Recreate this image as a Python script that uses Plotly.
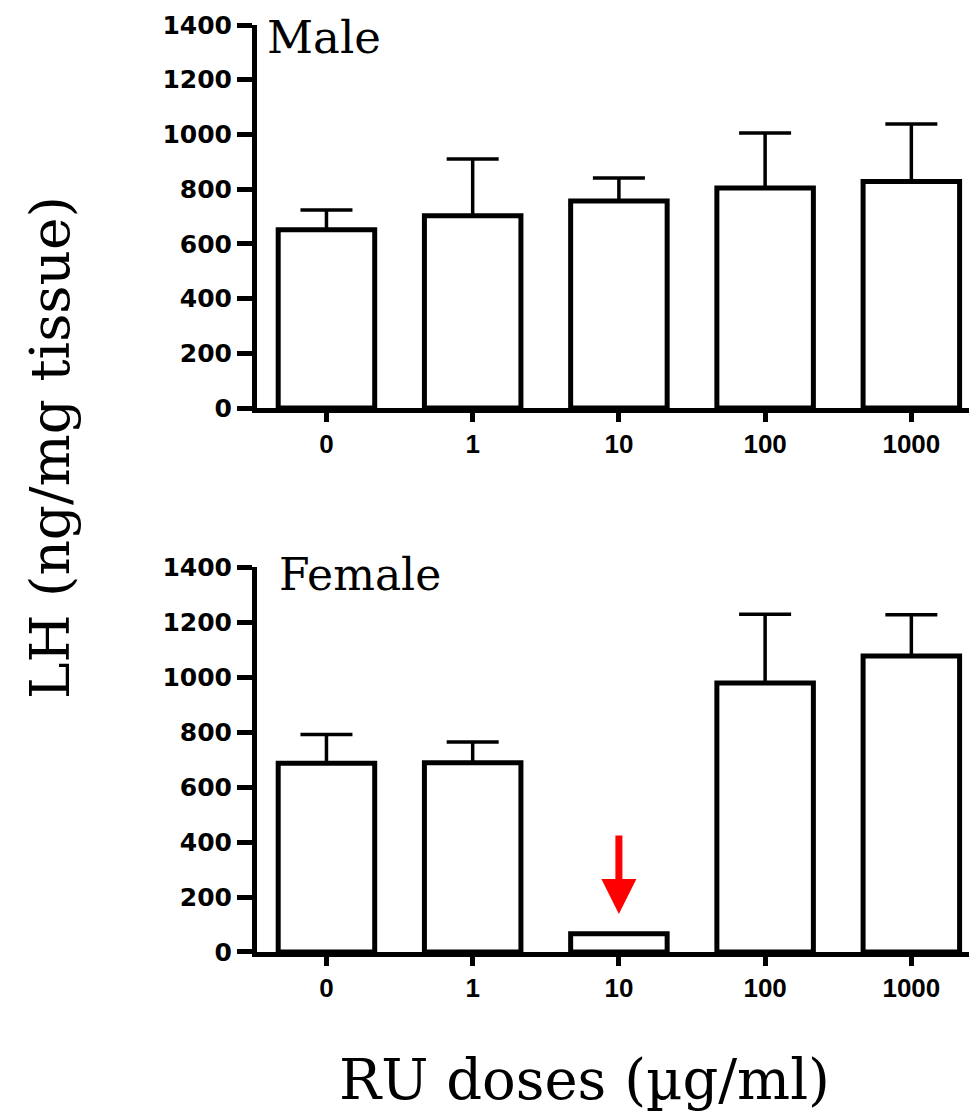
import plotly.graph_objects as go
from plotly.subplots import make_subplots

doses = ["0", "1", "10", "100", "1000"]
male_mean = [652, 703, 757, 804, 828]
male_sem = [72, 207, 84, 201, 210]
female_mean = [686, 688, 66, 978, 1076]
female_sem = [105, 76, 0, 250, 150]
y_ticks = [0, 200, 400, 600, 800, 1000, 1200, 1400]

fig = make_subplots(rows=2, cols=1, vertical_spacing=0.0)

for row, (mean, sem) in enumerate([(male_mean, male_sem), (female_mean, female_sem)], start=1):
    fig.add_trace(go.Bar(
        x=doses, y=mean, width=0.66,
        marker=dict(color="white", line=dict(color="black", width=5)),
        error_y=dict(type="data", array=sem, arrayminus=[0] * len(sem), symmetric=False,
                     color="black", thickness=3.5, width=26),
        showlegend=False,
    ), row=row, col=1)

axis_common = dict(showline=True, linecolor="black", linewidth=5, ticks="outside",
                   tickcolor="black", tickwidth=5, showgrid=False, zeroline=False,
                   automargin=False)

fig.update_xaxes(**axis_common, ticklen=9, range=[-0.475, 4.449], type="category",
                 tickfont=dict(family="Liberation Sans", size=26, color="black", weight="bold"))
fig.update_yaxes(**axis_common, ticklen=15, range=[0, 1400], tickvals=y_ticks,
                 tickfont=dict(family="DejaVu Sans", size=25, color="black", weight="bold"))

fig.update_yaxes(domain=[0.5868, 1.0], row=1, col=1)
fig.update_yaxes(domain=[0.0, 0.4153], row=2, col=1)

serif = "DejaVu Serif"
fig.add_annotation(text="Male", xref="paper", yref="paper", x=0.011, y=1.0173,
                   xanchor="left", yanchor="top", showarrow=False,
                   font=dict(family=serif, size=45, color="black"))
fig.add_annotation(text="Female", xref="paper", yref="paper", x=0.0278, y=0.4067,
                   xanchor="left", yanchor="middle", showarrow=False,
                   font=dict(family=serif, size=44, color="black"))
fig.add_annotation(text="LH (ng/mg tissue)", xref="paper", yref="paper", x=-0.2875, y=0.5437,
                   xanchor="center", yanchor="middle", textangle=-90, showarrow=False,
                   font=dict(family=serif, size=55, color="black"))
fig.add_annotation(text="RU doses (µg/ml)", xref="paper", yref="paper", x=0.455, y=-0.138,
                   xanchor="center", yanchor="middle", showarrow=False,
                   font=dict(family=serif, size=56, color="black"))
fig.add_annotation(text="", xref="x2", yref="y2", x=doses.index("10"), y=138, ax=0, ay=-80,
                   showarrow=True, arrowcolor="red", arrowwidth=7, arrowhead=2, arrowsize=1.0)

fig.update_layout(width=969, height=1105, margin=dict(l=249, r=0, t=17, b=161),
                  plot_bgcolor="white", paper_bgcolor="white", bargap=0.34)

fig.write_html("out.html")
